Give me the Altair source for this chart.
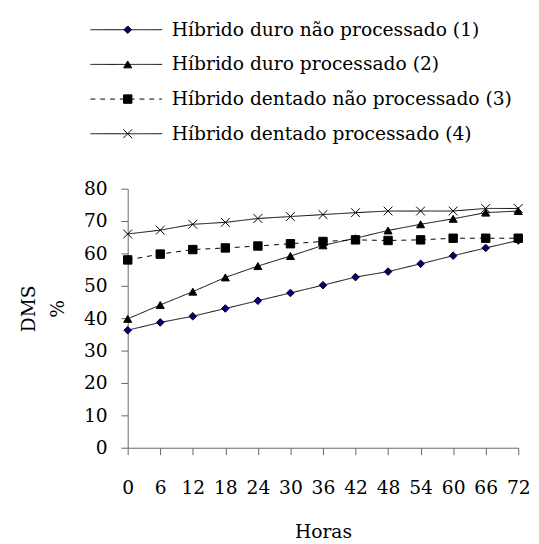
import altair as alt
import pandas as pd

horas = [0, 6, 12, 18, 24, 30, 36, 42, 48, 54, 60, 66, 72]
s1 = [36.3, 38.7, 40.6, 43.0, 45.4, 47.8, 50.2, 52.7, 54.4, 56.8, 59.3, 61.7, 64.0]
s2 = [39.8, 44.1, 48.2, 52.6, 56.1, 59.2, 62.5, 64.7, 67.1, 69.0, 70.7, 72.6, 73.1]
s3 = [58.0, 59.8, 61.2, 61.7, 62.3, 63.0, 63.7, 64.2, 64.0, 64.2, 64.7, 64.7, 64.7]
s4 = [66.0, 67.2, 69.0, 69.6, 70.8, 71.4, 72.0, 72.6, 73.1, 73.1, 73.1, 73.9, 73.9]
series_names = [
    "Híbrido duro não processado (1)",
    "Híbrido duro processado (2)",
    "Híbrido dentado não processado (3)",
    "Híbrido dentado processado (4)",
]
y_ticks = [0, 10, 20, 30, 40, 50, 60, 70, 80]

rows = []
for name, vals in zip(series_names, [s1, s2, s3, s4]):
    for h, v in zip(horas, vals):
        rows.append({"serie": name, "horas": h, "dms": v})
df = pd.DataFrame(rows)
leg_df = pd.DataFrame({"serie": series_names, "row": list(range(len(series_names)))})

FONT = "DejaVu Serif"
FS = 19
AX = "#666666"

shape_scale = alt.Scale(domain=series_names,
                        range=["diamond", "triangle-up", "square", "M-1,-1L1,1M-1,1L1,-1"])
fill_scale = alt.Scale(domain=series_names, range=["#000080", "black", "black", "black"])
size_scale = alt.Scale(domain=series_names, range=[60, 80, 170, 90])
dash_scale = alt.Scale(domain=series_names, range=[[1, 0], [1, 0], [5, 5], [1, 0]])

x_enc = alt.X("horas:Q", scale=alt.Scale(domain=[0, 72], nice=False),
              axis=alt.Axis(values=horas, title="Horas", grid=False, tickSize=7,
                            labelPadding=25, titlePadding=25, labelFlush=False,
                            labelOverlap=False))
y_enc = alt.Y("dms:Q", scale=alt.Scale(domain=[0, 80], nice=False),
              axis=alt.Axis(values=y_ticks, title=["DMS", "%"], grid=False, tickSize=7,
                            labelPadding=14, titlePadding=16, titleLineHeight=30,
                            titleY=122))

base = alt.Chart(df)
lines = base.mark_line(color="black", strokeWidth=1).encode(
    x=x_enc, y=y_enc, detail="serie:N",
    strokeDash=alt.StrokeDash("serie:N", scale=dash_scale, legend=None))
points = base.mark_point(filled=True, stroke="black", strokeWidth=1, opacity=1).encode(
    x=x_enc, y=y_enc,
    shape=alt.Shape("serie:N", scale=shape_scale, legend=None),
    fill=alt.Fill("serie:N", scale=fill_scale, legend=None),
    size=alt.Size("serie:N", scale=size_scale, legend=None))
main = alt.layer(lines, points).properties(width=398, height=264)

lbase = alt.Chart(leg_df).encode(
    y=alt.Y("row:Q", scale=alt.Scale(domain=[0, 3], range=[12, 118]), axis=None))
lrule = lbase.mark_rule(color="black", strokeWidth=1).encode(
    x=alt.value(-38), x2=alt.value(35),
    strokeDash=alt.StrokeDash("serie:N", scale=dash_scale, legend=None))
lpts = lbase.mark_point(filled=True, stroke="black", strokeWidth=1, opacity=1).encode(
    x=alt.value(0),
    shape=alt.Shape("serie:N", scale=shape_scale, legend=None),
    fill=alt.Fill("serie:N", scale=fill_scale, legend=None),
    size=alt.Size("serie:N", scale=size_scale, legend=None))
ltxt = lbase.mark_text(align="left", baseline="middle", font=FONT, fontSize=FS,
                       color="black").encode(x=alt.value(45), text="serie:N")
legend = alt.layer(lrule, lpts, ltxt).properties(width=398, height=140)

chart = alt.vconcat(legend, main, spacing=34, bounds="flush").properties(
    padding={"left": 11, "top": 5, "right": 0, "bottom": 0}
).resolve_scale(shape="shared", fill="shared", size="shared", strokeDash="shared").configure_view(
    stroke=None
).configure_axis(
    labelFont=FONT, labelFontSize=FS, labelColor="black",
    titleFont=FONT, titleFontSize=FS, titleColor="black", titleFontWeight="normal",
    domainColor=AX, tickColor=AX, domainWidth=1, tickWidth=1
)

chart.save("out.html", embed_options={"renderer": "svg", "actions": False})
